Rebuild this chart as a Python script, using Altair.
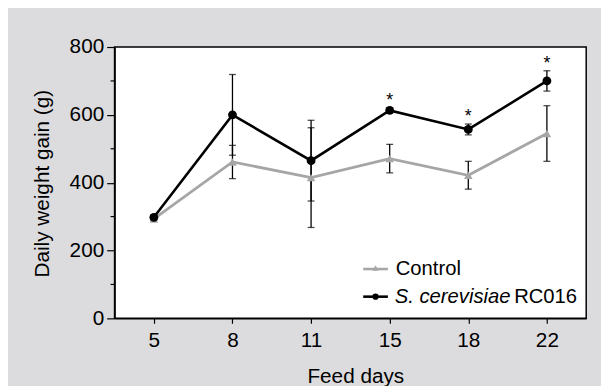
import altair as alt
import pandas as pd

# ---- data ----
days = ["5", "8", "11", "15", "18", "22"]
control_mean = [293, 461, 415, 471, 422, 545]
control_sd = [5, 49, 147, 42, 41, 82]
sc_mean = [298, 600, 465, 613, 557, 700]
sc_sd = [6, 119, 119, 8, 16, 30]
sig = ["", "", "", "*", "*", "*"]
series_names = ["Control", "S. cerevisiae RC016"]
y_major = [0, 200, 400, 600, 800]
y_minor = [100, 300, 500, 700]

FONT = "Liberation Sans, Arial, sans-serif"
GRAY = "#a6a6a6"
BG = "#dcdcde"

ctrl = pd.DataFrame({"day": days, "mean": control_mean, "sd": control_sd})
ctrl["lo"] = ctrl["mean"] - ctrl["sd"]
ctrl["hi"] = ctrl["mean"] + ctrl["sd"]
ctrl["series"] = series_names[0]

sc = pd.DataFrame({"day": days, "mean": sc_mean, "sd": sc_sd, "sig": sig})
sc["lo"] = sc["mean"] - sc["sd"]
sc["hi"] = sc["mean"] + sc["sd"]
sc["series"] = series_names[1]

both = pd.concat([ctrl, sc], ignore_index=True)
minor_df = pd.DataFrame({"v": y_minor})

X = alt.X(
    "day:O",
    sort=days,
    scale=alt.Scale(type="point", padding=0.5),
    axis=alt.Axis(
        title="Feed days",
        labelAngle=0,
        tickSize=5,
        labelPadding=7,
        titleX=244,
        titleY=65,
        titleAlign="center",
        titleBaseline="alphabetic",
    ),
)
Y_axis = alt.Axis(
    title="Daily weight gain (g)",
    values=y_major,
    tickSize=8,
    labelPadding=3,
    titleX=-73,
    titleY=138,
    titleAngle=270,
    titleAlign="center",
    titleBaseline="middle",
)
Y = alt.Y("mean:Q", scale=alt.Scale(domain=[0, 800], nice=False), axis=Y_axis)

base = alt.Chart(both)

err = base.mark_rule(color="black", strokeWidth=1.3).encode(
    x=X, y=alt.Y("lo:Q", scale=alt.Scale(domain=[0, 800], nice=False), axis=Y_axis), y2="hi:Q"
)
cap_lo = base.mark_tick(color="black", thickness=1.3, size=7).encode(x=X, y="lo:Q")
cap_hi = base.mark_tick(color="black", thickness=1.3, size=7).encode(x=X, y="hi:Q")

ctrl_line = alt.Chart(ctrl).mark_line(color=GRAY, strokeWidth=2.8).encode(x=X, y=Y)
ctrl_pts = alt.Chart(ctrl).mark_point(
    shape="triangle-up", filled=True, color=GRAY, size=75, opacity=1
).encode(x=X, y=Y)

sc_line = alt.Chart(sc).mark_line(color="black", strokeWidth=2.6).encode(x=X, y=Y)
sc_pts = alt.Chart(sc).mark_circle(color="black", size=80, opacity=1).encode(x=X, y=Y)

stars = alt.Chart(sc).transform_filter("datum.sig != ''").mark_text(
    font=FONT, fontSize=18, fill="black", color="black", baseline="alphabetic", dy=-2
).encode(x=X, y="hi:Q", text="sig:N")

minor = alt.Chart(minor_df).mark_rule(color="black", strokeWidth=1.2).encode(
    x=alt.value(-4), x2=alt.value(0), y="v:Q"
)

# ---- legend (drawn by hand to allow italic species name) ----
leg_df = pd.DataFrame({"series": series_names})
leg_ctrl = leg_df[leg_df.series == "Control"]
leg_sc = leg_df[leg_df.series != "Control"]

l1_line = alt.Chart(leg_ctrl).mark_rule(color=GRAY, strokeWidth=2.6).encode(
    x=alt.value(252), x2=alt.value(277), y=alt.value(225)
)
l1_pt = alt.Chart(leg_ctrl).mark_point(
    shape="triangle-up", filled=True, color=GRAY, size=40, opacity=1
).encode(x=alt.value(264.5), y=alt.value(224))
l1_txt = alt.Chart(leg_ctrl).mark_text(
    font=FONT, fontSize=20.5, align="left", baseline="middle", color="black"
).encode(x=alt.value(285), y=alt.value(225), text=alt.value("Control"))

l2_line = alt.Chart(leg_sc).mark_rule(color="black", strokeWidth=2.6).encode(
    x=alt.value(252), x2=alt.value(277), y=alt.value(253)
)
l2_pt = alt.Chart(leg_sc).mark_circle(color="black", size=40, opacity=1).encode(
    x=alt.value(264.5), y=alt.value(253)
)
l2_txt_a = alt.Chart(leg_sc).mark_text(
    font=FONT, fontSize=20.5, fontStyle="italic", align="left", baseline="middle", color="black"
).encode(x=alt.value(284), y=alt.value(253), text=alt.value("S. cerevisiae"))
l2_txt_b = alt.Chart(leg_sc).mark_text(
    font=FONT, fontSize=20.5, align="left", baseline="middle", color="black"
).encode(x=alt.value(405), y=alt.value(253), text=alt.value("RC016"))

chart = (
    alt.layer(
        err, cap_lo, cap_hi, minor,
        ctrl_line, ctrl_pts, sc_line, sc_pts, stars,
        l1_line, l1_pt, l1_txt, l2_line, l2_pt, l2_txt_a, l2_txt_b,
    )
    .properties(
        width=478,
        height=275,
        background=BG,
        autosize=alt.AutoSizeParams(type="none"),
        padding={"left": 108, "top": 37, "right": 15, "bottom": 66},
    )
    .configure_view(fill="white", stroke="black", strokeWidth=1.5)
    .configure_axis(
        grid=False,
        domainColor="black",
        domainWidth=1.5,
        tickColor="black",
        tickWidth=1.2,
        labelFont=FONT,
        labelFontSize=21,
        labelColor="black",
        titleFont=FONT,
        titleFontSize=21,
        titleFontWeight="normal",
        titleColor="black",
    )
)

chart.save("out.html", embed_options={"renderer": "svg", "actions": False})
